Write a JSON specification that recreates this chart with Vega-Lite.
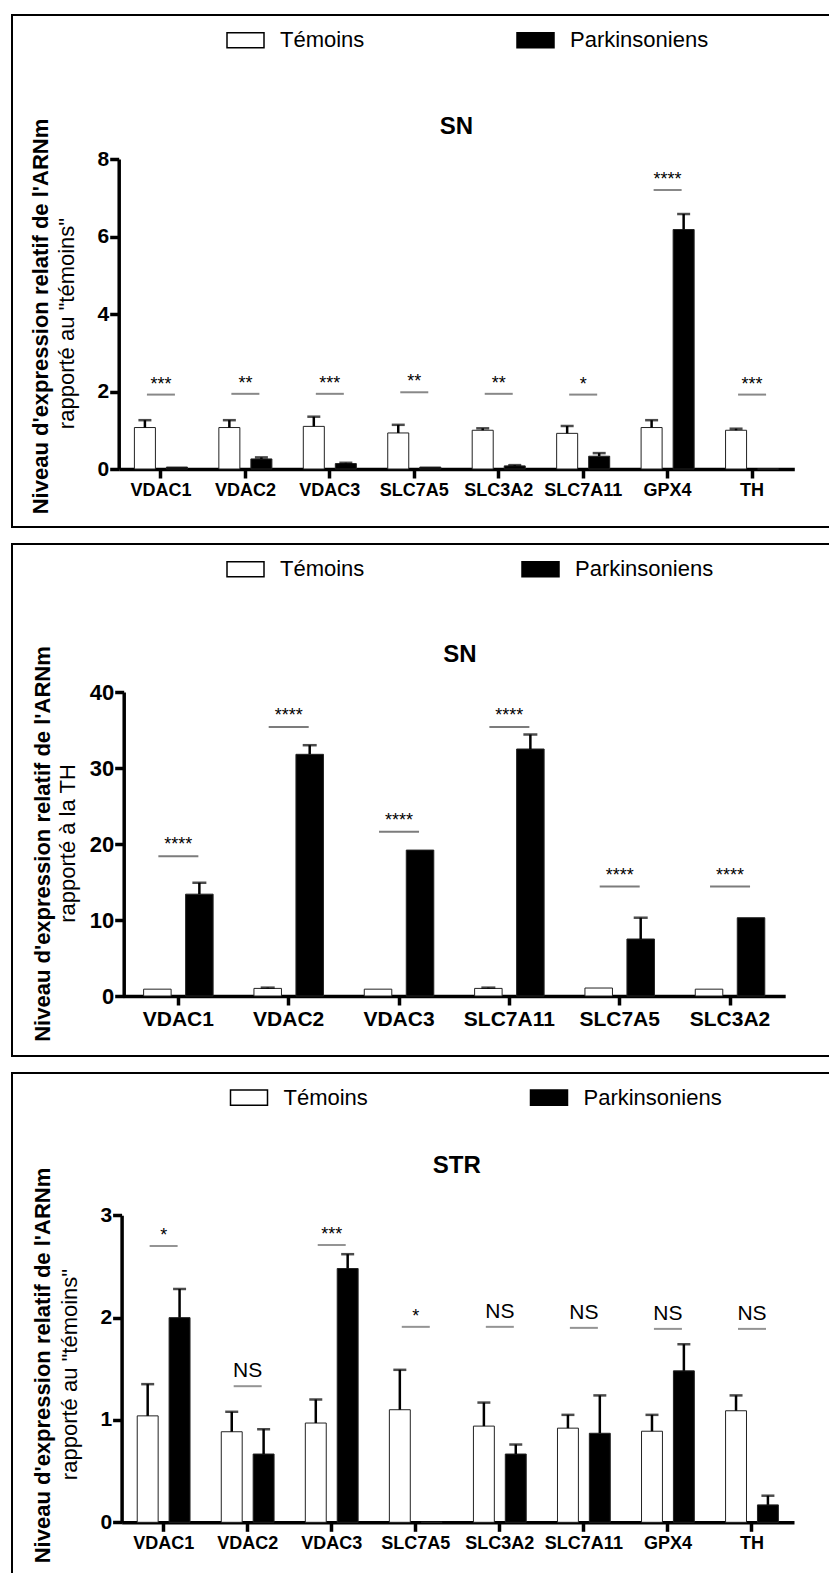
{
  "$schema": "https://vega.github.io/schema/vega-lite/v6.json",
  "padding": {"left": 11, "top": 14, "right": 0, "bottom": 0},
  "spacing": 15,
  "background": "white",
  "config": {
    "font": "Liberation Sans",
    "view": {"stroke": "black", "strokeWidth": 2},
    "axis": {"grid": false, "domainColor": "black", "tickColor": "black", "labelColor": "black", "titleColor": "black", "labelFont": "Liberation Sans", "titleFont": "Liberation Sans"},
    "title": {"color": "black", "font": "Liberation Sans"}
  },
  "datasets": {
    "p1": [
      {"gene": "VDAC1", "group": "Témoins", "value": 1.07, "err": 1.26},
      {"gene": "VDAC1", "group": "Parkinsoniens", "value": 0.05, "err": null},
      {"gene": "VDAC2", "group": "Témoins", "value": 1.07, "err": 1.26},
      {"gene": "VDAC2", "group": "Parkinsoniens", "value": 0.26, "err": 0.30},
      {"gene": "VDAC3", "group": "Témoins", "value": 1.10, "err": 1.35},
      {"gene": "VDAC3", "group": "Parkinsoniens", "value": 0.14, "err": 0.16},
      {"gene": "SLC7A5", "group": "Témoins", "value": 0.93, "err": 1.14},
      {"gene": "SLC7A5", "group": "Parkinsoniens", "value": 0.05, "err": null},
      {"gene": "SLC3A2", "group": "Témoins", "value": 1.00, "err": 1.05},
      {"gene": "SLC3A2", "group": "Parkinsoniens", "value": 0.08, "err": 0.10},
      {"gene": "SLC7A11", "group": "Témoins", "value": 0.92, "err": 1.11},
      {"gene": "SLC7A11", "group": "Parkinsoniens", "value": 0.33, "err": 0.41},
      {"gene": "GPX4", "group": "Témoins", "value": 1.07, "err": 1.26},
      {"gene": "GPX4", "group": "Parkinsoniens", "value": 6.18, "err": 6.58},
      {"gene": "TH", "group": "Témoins", "value": 1.00, "err": 1.04},
      {"gene": "TH", "group": "Parkinsoniens", "value": 0, "err": null}
    ],
    "p1sig": [
      {"gene": "VDAC1", "sig": 1.92, "label": "***"},
      {"gene": "VDAC2", "sig": 1.94, "label": "**"},
      {"gene": "VDAC3", "sig": 1.94, "label": "***"},
      {"gene": "SLC7A5", "sig": 1.98, "label": "**"},
      {"gene": "SLC3A2", "sig": 1.94, "label": "**"},
      {"gene": "SLC7A11", "sig": 1.92, "label": "*"},
      {"gene": "GPX4", "sig": 7.2, "label": "****"},
      {"gene": "TH", "sig": 1.92, "label": "***"}
    ],
    "p2": [
      {"gene": "VDAC1", "group": "Témoins", "value": 0.9, "err": null},
      {"gene": "VDAC1", "group": "Parkinsoniens", "value": 13.4, "err": 14.9},
      {"gene": "VDAC2", "group": "Témoins", "value": 1.0, "err": 1.1},
      {"gene": "VDAC2", "group": "Parkinsoniens", "value": 31.8, "err": 33.0},
      {"gene": "VDAC3", "group": "Témoins", "value": 0.9, "err": null},
      {"gene": "VDAC3", "group": "Parkinsoniens", "value": 19.2, "err": null},
      {"gene": "SLC7A11", "group": "Témoins", "value": 1.0, "err": 1.1},
      {"gene": "SLC7A11", "group": "Parkinsoniens", "value": 32.5, "err": 34.4},
      {"gene": "SLC7A5", "group": "Témoins", "value": 1.05, "err": null},
      {"gene": "SLC7A5", "group": "Parkinsoniens", "value": 7.5, "err": 10.3},
      {"gene": "SLC3A2", "group": "Témoins", "value": 0.9, "err": null},
      {"gene": "SLC3A2", "group": "Parkinsoniens", "value": 10.3, "err": null}
    ],
    "p2sig": [
      {"gene": "VDAC1", "sig": 18.4, "label": "****"},
      {"gene": "VDAC2", "sig": 35.4, "label": "****"},
      {"gene": "VDAC3", "sig": 21.6, "label": "****"},
      {"gene": "SLC7A11", "sig": 35.4, "label": "****"},
      {"gene": "SLC7A5", "sig": 14.4, "label": "****"},
      {"gene": "SLC3A2", "sig": 14.4, "label": "****"}
    ],
    "p3": [
      {"gene": "VDAC1", "group": "Témoins", "value": 1.04, "err": 1.35},
      {"gene": "VDAC1", "group": "Parkinsoniens", "value": 2.0, "err": 2.28},
      {"gene": "VDAC2", "group": "Témoins", "value": 0.885, "err": 1.08},
      {"gene": "VDAC2", "group": "Parkinsoniens", "value": 0.667, "err": 0.91},
      {"gene": "VDAC3", "group": "Témoins", "value": 0.97, "err": 1.20},
      {"gene": "VDAC3", "group": "Parkinsoniens", "value": 2.48, "err": 2.62},
      {"gene": "SLC7A5", "group": "Témoins", "value": 1.10, "err": 1.49},
      {"gene": "SLC7A5", "group": "Parkinsoniens", "value": 0, "err": null},
      {"gene": "SLC3A2", "group": "Témoins", "value": 0.94, "err": 1.17},
      {"gene": "SLC3A2", "group": "Parkinsoniens", "value": 0.667, "err": 0.76},
      {"gene": "SLC7A11", "group": "Témoins", "value": 0.92, "err": 1.05},
      {"gene": "SLC7A11", "group": "Parkinsoniens", "value": 0.87, "err": 1.24},
      {"gene": "GPX4", "group": "Témoins", "value": 0.89, "err": 1.05},
      {"gene": "GPX4", "group": "Parkinsoniens", "value": 1.48, "err": 1.74},
      {"gene": "TH", "group": "Témoins", "value": 1.09, "err": 1.24},
      {"gene": "TH", "group": "Parkinsoniens", "value": 0.17, "err": 0.26}
    ],
    "p3sig": [
      {"gene": "VDAC1", "sig": 2.70, "label": "*"},
      {"gene": "VDAC2", "sig": 1.33, "label": "NS"},
      {"gene": "VDAC3", "sig": 2.71, "label": "***"},
      {"gene": "SLC7A5", "sig": 1.91, "label": "*"},
      {"gene": "SLC3A2", "sig": 1.91, "label": "NS"},
      {"gene": "SLC7A11", "sig": 1.90, "label": "NS"},
      {"gene": "GPX4", "sig": 1.89, "label": "NS"},
      {"gene": "TH", "sig": 1.89, "label": "NS"}
    ]
  },
  "resolve": {"scale": {"x": "independent", "y": "independent", "color": "independent", "xOffset": "independent"}, "legend": {"color": "independent"}},
  "vconcat": [
    {
      "width": 818, "height": 512,
      "title": {"text": "SN", "fontSize": 24, "fontWeight": "bold", "anchor": "middle", "frame": "group", "offset": 0, "baseline": "middle", "dx": 35.5, "dy": 135.5},
      "resolve": {"axis": {"y": "independent"}},
      "layer": [
        {
          "data": {"name": "p1"},
          "mark": {"type": "bar", "stroke": "#222", "strokeWidth": 1},
          "encoding": {
            "x": {"field": "gene", "type": "nominal", "sort": null,
              "scale": {"range": [106.7, 782.3], "paddingInner": 0, "paddingOuter": 0},
              "axis": {"title": null, "orient": "bottom", "offset": -58, "domainWidth": 3.5, "tickWidth": 3.5, "tickSize": 9, "labelFontSize": 18, "labelFontWeight": "bold", "labelAngle": 0, "labelPadding": 3}},
            "xOffset": {"field": "group", "type": "nominal", "scale": {"domain": ["Témoins", "Parkinsoniens"], "paddingInner": 0.344, "paddingOuter": 0.49}},
            "y": {"field": "value", "type": "quantitative",
              "scale": {"domain": [0, 8], "range": [454, 144], "nice": false, "zero": true},
              "axis": {"orient": "left", "offset": -106.7, "values": [0, 2, 4, 6, 8], "domainWidth": 3.5, "tickWidth": 3.5, "tickSize": 9, "labelFontSize": 21, "labelFontWeight": "bold", "labelPadding": 1,
                "title": "Niveau d'expression relatif de l'ARNm", "titleFontSize": 22, "titleFontWeight": "bold", "titleAngle": -90, "titleX": -78, "titleY": 301, "titleAlign": "center", "titleBaseline": "middle"}},
            "color": {"field": "group", "type": "nominal",
              "scale": {"domain": ["Témoins", "Parkinsoniens"], "range": ["white", "black"]},
              "legend": {"orient": "none", "legendX": 214, "legendY": 5.5, "direction": "horizontal", "title": null, "symbolType": "M-1,-0.41H1V0.41H-1Z", "symbolSize": 1369, "symbolStrokeColor": "black", "symbolStrokeWidth": 1.5, "labelFontSize": 22, "labelFont": "Liberation Sans", "labelColor": "black", "labelOffset": 15, "columnPadding": 149, "padding": 0,
                "encode": {"symbols": {"update": {"stroke": {"value": "black"}, "strokeWidth": {"value": 1.5}}}}}}
          }
        },
        {
          "data": {"name": "p1"},
          "mark": {"type": "rule", "color": "black", "strokeWidth": 2.5},
          "encoding": {
            "x": {"field": "gene", "type": "nominal", "sort": null},
            "xOffset": {"field": "group", "type": "nominal"},
            "y": {"field": "value", "type": "quantitative", "axis": null},
            "y2": {"field": "err"}
          }
        },
        {
          "data": {"name": "p1"},
          "mark": {"type": "tick", "color": "black", "size": 13, "thickness": 2.5},
          "encoding": {
            "x": {"field": "gene", "type": "nominal", "sort": null},
            "xOffset": {"field": "group", "type": "nominal"},
            "y": {"field": "err", "type": "quantitative", "axis": null}
          }
        },
        {
          "data": {"name": "p1sig"},
          "mark": {"type": "tick", "color": "#555", "size": 28, "thickness": 2},
          "encoding": {
            "x": {"field": "gene", "type": "nominal", "sort": null},
            "y": {"field": "sig", "type": "quantitative",
              "axis": {"orient": "left", "offset": -106.7, "labels": false, "ticks": false, "domain": false,
                "title": "rapporté au \"témoins\"", "titleFontSize": 22, "titleFontWeight": "normal", "titleAngle": -90, "titleX": -52, "titleY": 308, "titleAlign": "center", "titleBaseline": "middle"}}
          }
        },
        {
          "data": {"name": "p1sig"},
          "mark": {"type": "text", "color": "black", "fontSize": 18, "dy": -5, "baseline": "alphabetic"},
          "encoding": {
            "x": {"field": "gene", "type": "nominal", "sort": null},
            "y": {"field": "sig", "type": "quantitative", "axis": null},
            "text": {"field": "label"}
          }
        }
      ]
    },
    {
      "width": 818, "height": 512,
      "title": {"text": "SN", "fontSize": 24, "fontWeight": "bold", "anchor": "middle", "frame": "group", "offset": 0, "baseline": "middle", "dx": 39, "dy": 135},
      "resolve": {"axis": {"y": "independent"}},
      "layer": [
        {
          "data": {"name": "p2"},
          "mark": {"type": "bar", "stroke": "#222", "strokeWidth": 1},
          "encoding": {
            "x": {"field": "gene", "type": "nominal", "sort": null,
              "scale": {"range": [111.2, 773.2], "paddingInner": 0, "paddingOuter": 0},
              "axis": {"title": null, "orient": "bottom", "offset": -60, "domainWidth": 3.5, "tickWidth": 3.5, "tickSize": 9, "labelFontSize": 21, "labelFontWeight": "bold", "labelAngle": 0, "labelPadding": 3}},
            "xOffset": {"field": "group", "type": "nominal", "scale": {"domain": ["Témoins", "Parkinsoniens"], "paddingInner": 0.345, "paddingOuter": 0.486}},
            "y": {"field": "value", "type": "quantitative",
              "scale": {"domain": [0, 40], "range": [452, 148], "nice": false, "zero": true},
              "axis": {"orient": "left", "offset": -111.7, "values": [0, 10, 20, 30, 40], "domainWidth": 3.5, "tickWidth": 3.5, "tickSize": 9, "labelFontSize": 22, "labelFontWeight": "bold", "labelPadding": 1,
                "title": "Niveau d'expression relatif de l'ARNm", "titleFontSize": 22, "titleFontWeight": "bold", "titleAngle": -90, "titleX": -81.7, "titleY": 299.5, "titleAlign": "center", "titleBaseline": "middle"}},
            "color": {"field": "group", "type": "nominal",
              "scale": {"domain": ["Témoins", "Parkinsoniens"], "range": ["white", "black"]},
              "legend": {"orient": "none", "legendX": 214, "legendY": 5.5, "direction": "horizontal", "title": null, "symbolType": "M-1,-0.41H1V0.41H-1Z", "symbolSize": 1369, "symbolStrokeColor": "black", "symbolStrokeWidth": 1.5, "labelFontSize": 22, "labelFont": "Liberation Sans", "labelColor": "black", "labelOffset": 15, "columnPadding": 154, "padding": 0,
                "encode": {"symbols": {"update": {"stroke": {"value": "black"}, "strokeWidth": {"value": 1.5}}}}}}
          }
        },
        {
          "data": {"name": "p2"},
          "mark": {"type": "rule", "color": "black", "strokeWidth": 2.5},
          "encoding": {
            "x": {"field": "gene", "type": "nominal", "sort": null},
            "xOffset": {"field": "group", "type": "nominal"},
            "y": {"field": "value", "type": "quantitative", "axis": null},
            "y2": {"field": "err"}
          }
        },
        {
          "data": {"name": "p2"},
          "mark": {"type": "tick", "color": "black", "size": 14, "thickness": 2.5},
          "encoding": {
            "x": {"field": "gene", "type": "nominal", "sort": null},
            "xOffset": {"field": "group", "type": "nominal"},
            "y": {"field": "err", "type": "quantitative", "axis": null}
          }
        },
        {
          "data": {"name": "p2sig"},
          "mark": {"type": "tick", "color": "#444", "size": 40, "thickness": 2},
          "encoding": {
            "x": {"field": "gene", "type": "nominal", "sort": null},
            "y": {"field": "sig", "type": "quantitative",
              "axis": {"orient": "left", "offset": -111.7, "labels": false, "ticks": false, "domain": false,
                "title": "rapporté à la TH", "titleFontSize": 22, "titleFontWeight": "normal", "titleAngle": -90, "titleX": -56, "titleY": 299, "titleAlign": "center", "titleBaseline": "middle"}}
          }
        },
        {
          "data": {"name": "p2sig"},
          "mark": {"type": "text", "color": "black", "fontSize": 18, "dy": -6, "baseline": "alphabetic"},
          "encoding": {
            "x": {"field": "gene", "type": "nominal", "sort": null},
            "y": {"field": "sig", "type": "quantitative", "axis": null},
            "text": {"field": "label"}
          }
        }
      ]
    },
    {
      "width": 818, "height": 512,
      "title": {"text": "STR", "fontSize": 24, "fontWeight": "bold", "anchor": "middle", "frame": "group", "offset": 0, "baseline": "middle", "dx": 35.8, "dy": 117},
      "resolve": {"axis": {"y": "independent"}},
      "layer": [
        {
          "data": {"name": "p3"},
          "mark": {"type": "bar", "stroke": "#222", "strokeWidth": 1},
          "encoding": {
            "x": {"field": "gene", "type": "nominal", "sort": null,
              "scale": {"range": [109.6, 782], "paddingInner": 0, "paddingOuter": 0},
              "axis": {"title": null, "orient": "bottom", "offset": -62.7, "domainWidth": 3.5, "tickWidth": 3.5, "tickSize": 9, "labelFontSize": 18, "labelFontWeight": "bold", "labelAngle": 0, "labelPadding": 3}},
            "xOffset": {"field": "group", "type": "nominal", "scale": {"domain": ["Témoins", "Parkinsoniens"], "paddingInner": 0.344, "paddingOuter": 0.49}},
            "y": {"field": "value", "type": "quantitative",
              "scale": {"domain": [0, 3], "range": [449.3, 142.3], "nice": false, "zero": true},
              "axis": {"orient": "left", "offset": -109.6, "values": [0, 1, 2, 3], "domainWidth": 3.5, "tickWidth": 3.5, "tickSize": 9, "labelFontSize": 21, "labelFontWeight": "bold", "labelPadding": 1,
                "title": "Niveau d'expression relatif de l'ARNm", "titleFontSize": 22, "titleFontWeight": "bold", "titleAngle": -90, "titleX": -79.6, "titleY": 292, "titleAlign": "center", "titleBaseline": "middle"}},
            "color": {"field": "group", "type": "nominal",
              "scale": {"domain": ["Témoins", "Parkinsoniens"], "range": ["white", "black"]},
              "legend": {"orient": "none", "legendX": 217.5, "legendY": 4.8, "direction": "horizontal", "title": null, "symbolType": "M-1,-0.41H1V0.41H-1Z", "symbolSize": 1369, "symbolStrokeColor": "black", "symbolStrokeWidth": 1.5, "labelFontSize": 22, "labelFont": "Liberation Sans", "labelColor": "black", "labelOffset": 15, "columnPadding": 159, "padding": 0,
                "encode": {"symbols": {"update": {"stroke": {"value": "black"}, "strokeWidth": {"value": 1.5}}}}}}
          }
        },
        {
          "data": {"name": "p3"},
          "mark": {"type": "rule", "color": "black", "strokeWidth": 2.5},
          "encoding": {
            "x": {"field": "gene", "type": "nominal", "sort": null},
            "xOffset": {"field": "group", "type": "nominal"},
            "y": {"field": "value", "type": "quantitative", "axis": null},
            "y2": {"field": "err"}
          }
        },
        {
          "data": {"name": "p3"},
          "mark": {"type": "tick", "color": "black", "size": 13, "thickness": 2.5},
          "encoding": {
            "x": {"field": "gene", "type": "nominal", "sort": null},
            "xOffset": {"field": "group", "type": "nominal"},
            "y": {"field": "err", "type": "quantitative", "axis": null}
          }
        },
        {
          "data": {"name": "p3sig"},
          "mark": {"type": "tick", "color": "#666", "size": 28, "thickness": 2},
          "encoding": {
            "x": {"field": "gene", "type": "nominal", "sort": null},
            "y": {"field": "sig", "type": "quantitative",
              "axis": {"orient": "left", "offset": -109.6, "labels": false, "ticks": false, "domain": false,
                "title": "rapporté au \"témoins\"", "titleFontSize": 22, "titleFontWeight": "normal", "titleAngle": -90, "titleX": -52, "titleY": 301, "titleAlign": "center", "titleBaseline": "middle"}}
          }
        },
        {
          "data": {"name": "p3sig"},
          "transform": [{"filter": "datum.label != 'NS'"}],
          "mark": {"type": "text", "color": "black", "fontSize": 18, "dy": -5, "baseline": "alphabetic"},
          "encoding": {
            "x": {"field": "gene", "type": "nominal", "sort": null},
            "y": {"field": "sig", "type": "quantitative", "axis": null},
            "text": {"field": "label"}
          }
        },
        {
          "data": {"name": "p3sig"},
          "transform": [{"filter": "datum.label == 'NS'"}],
          "mark": {"type": "text", "color": "black", "fontSize": 21, "dy": -9, "baseline": "alphabetic"},
          "encoding": {
            "x": {"field": "gene", "type": "nominal", "sort": null},
            "y": {"field": "sig", "type": "quantitative", "axis": null},
            "text": {"field": "label"}
          }
        }
      ]
    }
  ]
}
